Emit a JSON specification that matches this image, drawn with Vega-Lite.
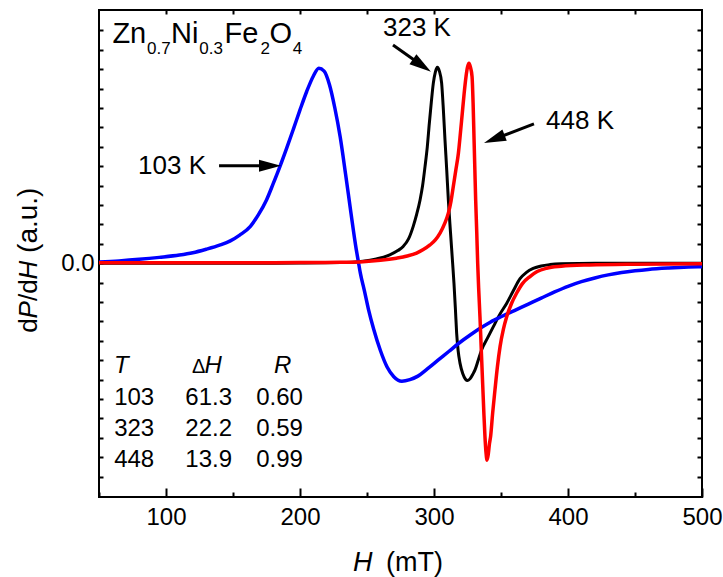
{
  "$schema": "https://vega.github.io/schema/vega-lite/v6.json",
  "width": 603,
  "height": 487,
  "autosize": {"type": "none"},
  "padding": {"left": 99, "top": 10, "right": 21, "bottom": 80},
  "background": "white",
  "config": {
    "font": "Liberation Sans",
    "view": {"stroke": "black", "strokeWidth": 2},
    "axis": {"grid": false, "domain": false, "ticks": true, "tickColor": "black", "tickOpacity": 1, "tickWidth": 2, "labelColor": "black", "labelFont": "Liberation Sans", "labelFontSize": 24, "title": null}
  },
  "resolve": {"axis": {"x": "independent", "y": "independent"}},
  "datasets": {
    "curves": [
      {"T":"323","H":50,"v":0},{"T":"323","H":150,"v":0},{"T":"323","H":200,"v":0.01},{"T":"323","H":230,"v":0.03},{"T":"323","H":247,"v":0.1},{"T":"323","H":257,"v":0.22},{"T":"323","H":267,"v":0.43},{"T":"323","H":273,"v":0.65},{"T":"323","H":277,"v":0.86},{"T":"323","H":281,"v":1.25},{"T":"323","H":284.5,"v":1.9},{"T":"323","H":287,"v":2.5},{"T":"323","H":289.6,"v":3.26},{"T":"323","H":291.5,"v":4.0},{"T":"323","H":293.3,"v":4.98},{"T":"323","H":295,"v":6.0},{"T":"323","H":296.5,"v":7.2},{"T":"323","H":298,"v":8.3},{"T":"323","H":299.5,"v":9.28},{"T":"323","H":301,"v":9.85},{"T":"323","H":302.5,"v":10.1},{"T":"323","H":304,"v":9.9},{"T":"323","H":305.7,"v":9.28},{"T":"323","H":307,"v":7.9},{"T":"323","H":308.2,"v":6.36},{"T":"323","H":309.5,"v":4.8},{"T":"323","H":310.7,"v":3.26},{"T":"323","H":312.3,"v":1.6},{"T":"323","H":313.9,"v":0},{"T":"323","H":314.9,"v":-1.03},{"T":"323","H":316,"v":-2.4},{"T":"323","H":316.9,"v":-3.6},{"T":"323","H":318,"v":-4.5},{"T":"323","H":319.4,"v":-5.15},{"T":"323","H":321.5,"v":-5.7},{"T":"323","H":323.5,"v":-5.98},{"T":"323","H":325.1,"v":-6.05},{"T":"323","H":327,"v":-5.95},{"T":"323","H":329,"v":-5.72},{"T":"323","H":330.6,"v":-5.5},{"T":"323","H":333,"v":-5.0},{"T":"323","H":335.5,"v":-4.47},{"T":"323","H":340,"v":-3.85},{"T":"323","H":344.3,"v":-3.27},{"T":"323","H":349,"v":-2.65},{"T":"323","H":354.3,"v":-2.06},{"T":"323","H":359,"v":-1.45},{"T":"323","H":364.2,"v":-0.8},{"T":"323","H":369,"v":-0.47},{"T":"323","H":374,"v":-0.27},{"T":"323","H":380,"v":-0.14},{"T":"323","H":386.6,"v":-0.07},{"T":"323","H":395,"v":-0.03},{"T":"323","H":420,"v":0},{"T":"323","H":500,"v":0},
      {"T":"103","H":50,"v":0.06},{"T":"103","H":65,"v":0.12},{"T":"103","H":80,"v":0.2},{"T":"103","H":95,"v":0.3},{"T":"103","H":110,"v":0.42},{"T":"103","H":120,"v":0.54},{"T":"103","H":130,"v":0.72},{"T":"103","H":140,"v":0.93},{"T":"103","H":148,"v":1.15},{"T":"103","H":155,"v":1.45},{"T":"103","H":163,"v":1.9},{"T":"103","H":169,"v":2.5},{"T":"103","H":175,"v":3.26},{"T":"103","H":180,"v":4.1},{"T":"103","H":185,"v":4.98},{"T":"103","H":190,"v":5.92},{"T":"103","H":195,"v":6.9},{"T":"103","H":200,"v":7.9},{"T":"103","H":205,"v":8.85},{"T":"103","H":210,"v":9.65},{"T":"103","H":214,"v":10.05},{"T":"103","H":218,"v":9.9},{"T":"103","H":222,"v":9.2},{"T":"103","H":226,"v":8.0},{"T":"103","H":230,"v":6.5},{"T":"103","H":234,"v":4.6},{"T":"103","H":238,"v":2.6},{"T":"103","H":242,"v":0.7},{"T":"103","H":243.5,"v":0.1},{"T":"103","H":245,"v":-0.5},{"T":"103","H":248,"v":-1.4},{"T":"103","H":251,"v":-2.35},{"T":"103","H":255,"v":-3.4},{"T":"103","H":260,"v":-4.5},{"T":"103","H":265,"v":-5.35},{"T":"103","H":270,"v":-5.85},{"T":"103","H":276,"v":-6.08},{"T":"103","H":282,"v":-6.0},{"T":"103","H":288,"v":-5.82},{"T":"103","H":295,"v":-5.45},{"T":"103","H":303,"v":-5.0},{"T":"103","H":311,"v":-4.55},{"T":"103","H":319,"v":-4.1},{"T":"103","H":327,"v":-3.7},{"T":"103","H":335,"v":-3.33},{"T":"103","H":342,"v":-3.04},{"T":"103","H":350,"v":-2.76},{"T":"103","H":360,"v":-2.44},{"T":"103","H":370,"v":-2.12},{"T":"103","H":380,"v":-1.8},{"T":"103","H":390,"v":-1.48},{"T":"103","H":400,"v":-1.19},{"T":"103","H":410,"v":-0.95},{"T":"103","H":420,"v":-0.76},{"T":"103","H":430,"v":-0.6},{"T":"103","H":440,"v":-0.48},{"T":"103","H":450,"v":-0.39},{"T":"103","H":460,"v":-0.32},{"T":"103","H":475,"v":-0.25},{"T":"103","H":490,"v":-0.2},{"T":"103","H":500,"v":-0.18},
      {"T":"448","H":50,"v":0.02},{"T":"448","H":150,"v":0.02},{"T":"448","H":200,"v":0.03},{"T":"448","H":230,"v":0.05},{"T":"448","H":247,"v":0.08},{"T":"448","H":260,"v":0.15},{"T":"448","H":272,"v":0.26},{"T":"448","H":280,"v":0.37},{"T":"448","H":287,"v":0.52},{"T":"448","H":292,"v":0.7},{"T":"448","H":297,"v":0.94},{"T":"448","H":301,"v":1.2},{"T":"448","H":304.5,"v":1.55},{"T":"448","H":308,"v":2.05},{"T":"448","H":310.7,"v":2.58},{"T":"448","H":312.7,"v":3.2},{"T":"448","H":314.4,"v":3.95},{"T":"448","H":316.3,"v":4.8},{"T":"448","H":318.2,"v":5.67},{"T":"448","H":319.7,"v":6.7},{"T":"448","H":321.1,"v":7.73},{"T":"448","H":322.5,"v":8.75},{"T":"448","H":323.9,"v":9.62},{"T":"448","H":325,"v":10.1},{"T":"448","H":326.1,"v":10.3},{"T":"448","H":327.2,"v":10.1},{"T":"448","H":328.4,"v":9.62},{"T":"448","H":329.2,"v":8.2},{"T":"448","H":329.9,"v":6.36},{"T":"448","H":330.5,"v":4.8},{"T":"448","H":331.1,"v":3.26},{"T":"448","H":331.9,"v":1.6},{"T":"448","H":332.6,"v":0},{"T":"448","H":333.4,"v":-1.4},{"T":"448","H":334.3,"v":-2.75},{"T":"448","H":335.3,"v":-4.5},{"T":"448","H":336.3,"v":-6.19},{"T":"448","H":337.2,"v":-7.7},{"T":"448","H":338,"v":-8.9},{"T":"448","H":338.8,"v":-9.75},{"T":"448","H":339.6,"v":-10.15},{"T":"448","H":340.5,"v":-9.85},{"T":"448","H":341.4,"v":-9.3},{"T":"448","H":342.3,"v":-8.9},{"T":"448","H":343.8,"v":-7.7},{"T":"448","H":345.5,"v":-6.53},{"T":"448","H":347.3,"v":-5.35},{"T":"448","H":349.3,"v":-4.3},{"T":"448","H":351.8,"v":-3.4},{"T":"448","H":354.3,"v":-2.75},{"T":"448","H":358,"v":-2.05},{"T":"448","H":361.6,"v":-1.55},{"T":"448","H":366,"v":-1.05},{"T":"448","H":371.6,"v":-0.69},{"T":"448","H":377,"v":-0.43},{"T":"448","H":384,"v":-0.26},{"T":"448","H":395,"v":-0.16},{"T":"448","H":416,"v":-0.09},{"T":"448","H":450,"v":-0.05},{"T":"448","H":500,"v":-0.03}
    ],
    "arrows": [
      {"id":"103","H":139.6,"v":5.02,"H2":177.6,"v2":5.02},
      {"id":"323","H":269.4,"v":11.25,"H2":291.0,"v2":10.19},
      {"id":"448","H":374.6,"v":7.18,"H2":345.0,"v2":6.40}
    ],
    "texts": [
      {"g":"lab","t":"103 K","H":104.5,"v":4.6},
      {"g":"lab","t":"323 K","H":287.3,"v":11.72},
      {"g":"lab","t":"448 K","H":409,"v":6.92},
      {"g":"fmain","t":"Zn","H":60.0,"v":11.34},
      {"g":"fmain","t":"Ni","H":103.8,"v":11.34},
      {"g":"fmain","t":"Fe","H":143.6,"v":11.34},
      {"g":"fmain","t":"O","H":177.2,"v":11.34},
      {"g":"fsub","t":"0.7","H":85.8,"v":10.77},
      {"g":"fsub","t":"0.3","H":124.9,"v":10.77},
      {"g":"fsub","t":"2","H":170.5,"v":10.77},
      {"g":"fsub","t":"4","H":194.6,"v":10.77},
      {"g":"hdri","t":"T","H":61.2,"v":-5.65},
      {"g":"hdri","t":"H","H":128.7,"v":-5.65},
      {"g":"hdri","t":"R","H":180.6,"v":-5.65},
      {"g":"hdrd","t":"Δ","H":119.4,"v":-5.65},
      {"g":"tnum","t":"103","H":91.2,"v":-7.3},
      {"g":"tnum","t":"61.3","H":149.3,"v":-7.3},
      {"g":"tnum","t":"0.60","H":202.2,"v":-7.3},
      {"g":"tnum","t":"323","H":91.2,"v":-8.9},
      {"g":"tnum","t":"22.2","H":149.3,"v":-8.9},
      {"g":"tnum","t":"0.59","H":202.2,"v":-8.9},
      {"g":"tnum","t":"448","H":91.2,"v":-10.5},
      {"g":"tnum","t":"13.9","H":149.3,"v":-10.5},
      {"g":"tnum","t":"0.99","H":202.2,"v":-10.5},
      {"g":"xti","t":"H","H":239.6,"v":-15.86},
      {"g":"xt","t":"(mT)","H":264.2,"v":-15.86},
      {"g":"yt","t":"d","H":3.7,"v":-3.59},
      {"g":"yti","t":"P","H":3.7,"v":-2.85},
      {"g":"yt","t":"/d","H":3.7,"v":-1.95},
      {"g":"yti","t":"H","H":3.7,"v":-0.84},
      {"g":"yt2","t":"(a.u.)","H":3.7,"v":0.53}
    ]
  },
  "encoding": {
    "x": {"field": "H", "type": "quantitative", "scale": {"domain": [50, 500], "nice": false, "zero": false}, "axis": null},
    "y": {"field": "v", "type": "quantitative", "scale": {"domain": [-12.05, 13.05], "nice": false, "zero": false}, "axis": null}
  },
  "layer": [
    {
      "mark": {"type": "rule", "color": "black", "strokeWidth": 1.5},
      "encoding": {"x": {"datum": 50, "type": "quantitative"}, "x2": {"datum": 500}, "y": {"datum": 0, "type": "quantitative"}}
    },
    {
      "data": {"name": "curves"},
      "transform": [{"filter": "datum.T === '323'"}],
      "mark": {"type": "line", "color": "black", "strokeWidth": 3, "interpolate": "monotone"},
      "encoding": {
        "x": {"field": "H", "type": "quantitative", "scale": {"domain": [50, 500], "nice": false, "zero": false},
          "axis": {"orient": "bottom", "values": [50, 100, 150, 200, 250, 300, 350, 400, 450, 500],
            "tickSize": {"condition": {"test": "datum.value % 100 === 0", "value": -9}, "value": -5},
            "labelExpr": "datum.value % 100 === 0 ? datum.label : ''", "labelPadding": 17, "labelOverlap": false, "labelFlush": false, "labelBound": false}},
        "y": {"field": "v", "type": "quantitative", "scale": {"domain": [-12.05, 13.05], "nice": false, "zero": false},
          "axis": {"orient": "left", "values": [-11, -10, -9, -8, -7, -6, -5, -4, -3, -2, -1, 0, 1, 2, 3, 4, 5, 6, 7, 8, 9, 10, 11, 12],
            "tickSize": -4, "labelExpr": "datum.value === 0 ? '0.0' : ''", "labelPadding": 9, "labelOverlap": false, "labelBound": false}}
      }
    },
    {
      "data": {"name": "curves"},
      "transform": [{"filter": "datum.T === '103'"}],
      "mark": {"type": "line", "color": "#0000ff", "strokeWidth": 3.5, "interpolate": "monotone"},
      "encoding": {
        "x": {"field": "H", "type": "quantitative", "scale": {"domain": [50, 500], "nice": false, "zero": false},
          "axis": {"orient": "top", "values": [100, 150, 200, 250, 300, 350, 400, 450], "tickSize": -4, "labels": false}},
        "y": {"field": "v", "type": "quantitative", "scale": {"domain": [-12.05, 13.05], "nice": false, "zero": false},
          "axis": {"orient": "right", "values": [-11, -10, -9, -8, -7, -6, -5, -4, -3, -2, -1, 0, 1, 2, 3, 4, 5, 6, 7, 8, 9, 10, 11, 12], "tickSize": 5, "offset": -5, "labels": false}}
      }
    },
    {
      "data": {"name": "curves"},
      "transform": [{"filter": "datum.T === '448'"}],
      "mark": {"type": "line", "color": "#ff0000", "strokeWidth": 3.5, "interpolate": "monotone"}
    },
    {
      "data": {"name": "arrows"},
      "mark": {"type": "rule", "color": "black", "strokeWidth": 3},
      "encoding": {"x2": {"field": "H2"}, "y2": {"field": "v2"}}
    },
    {
      "data": {"name": "arrows"},
      "transform": [{"filter": "datum.id === '103'"}],
      "mark": {"type": "point", "shape": "M-1,-0.55L1,0L-1,0.55Z", "filled": true, "color": "black", "opacity": 1, "size": 484, "angle": 0},
      "encoding": {"x": {"field": "H2", "type": "quantitative"}, "y": {"field": "v2", "type": "quantitative"}}
    },
    {
      "data": {"name": "arrows"},
      "transform": [{"filter": "datum.id === '323'"}],
      "mark": {"type": "point", "shape": "M-1,-0.55L1,0L-1,0.55Z", "filled": true, "color": "black", "opacity": 1, "size": 484, "angle": 35},
      "encoding": {"x": {"field": "H2", "type": "quantitative"}, "y": {"field": "v2", "type": "quantitative"}}
    },
    {
      "data": {"name": "arrows"},
      "transform": [{"filter": "datum.id === '448'"}],
      "mark": {"type": "point", "shape": "M-1,-0.55L1,0L-1,0.55Z", "filled": true, "color": "black", "opacity": 1, "size": 484, "angle": 159},
      "encoding": {"x": {"field": "H2", "type": "quantitative"}, "y": {"field": "v2", "type": "quantitative"}}
    },
    {
      "data": {"name": "texts"},
      "transform": [{"filter": "datum.g === 'lab'"}],
      "mark": {"type": "text", "fontSize": 26, "align": "center", "baseline": "alphabetic", "color": "black"},
      "encoding": {"text": {"field": "t"}}
    },
    {
      "data": {"name": "texts"},
      "transform": [{"filter": "datum.g === 'fmain'"}],
      "mark": {"type": "text", "fontSize": 29, "align": "left", "baseline": "alphabetic", "color": "black"},
      "encoding": {"text": {"field": "t"}}
    },
    {
      "data": {"name": "texts"},
      "transform": [{"filter": "datum.g === 'fsub'"}],
      "mark": {"type": "text", "fontSize": 17, "align": "left", "baseline": "alphabetic", "color": "black"},
      "encoding": {"text": {"field": "t"}}
    },
    {
      "data": {"name": "texts"},
      "transform": [{"filter": "datum.g === 'hdri'"}],
      "mark": {"type": "text", "fontSize": 24, "fontStyle": "italic", "align": "left", "baseline": "alphabetic", "color": "black"},
      "encoding": {"text": {"field": "t"}}
    },
    {
      "data": {"name": "texts"},
      "transform": [{"filter": "datum.g === 'hdrd'"}],
      "mark": {"type": "text", "fontSize": 20, "align": "left", "baseline": "alphabetic", "color": "black"},
      "encoding": {"text": {"field": "t"}}
    },
    {
      "data": {"name": "texts"},
      "transform": [{"filter": "datum.g === 'tnum'"}],
      "mark": {"type": "text", "fontSize": 24, "align": "right", "baseline": "alphabetic", "color": "black"},
      "encoding": {"text": {"field": "t"}}
    },
    {
      "data": {"name": "texts"},
      "transform": [{"filter": "datum.g === 'xti'"}],
      "mark": {"type": "text", "fontSize": 27, "fontStyle": "italic", "align": "left", "baseline": "alphabetic", "color": "black"},
      "encoding": {"text": {"field": "t"}}
    },
    {
      "data": {"name": "texts"},
      "transform": [{"filter": "datum.g === 'xt'"}],
      "mark": {"type": "text", "fontSize": 27, "align": "left", "baseline": "alphabetic", "color": "black"},
      "encoding": {"text": {"field": "t"}}
    },
    {
      "data": {"name": "texts"},
      "transform": [{"filter": "datum.g === 'yti'"}],
      "mark": {"type": "text", "fontSize": 26, "fontStyle": "italic", "angle": 270, "align": "left", "baseline": "alphabetic", "color": "black"},
      "encoding": {"text": {"field": "t"}}
    },
    {
      "data": {"name": "texts"},
      "transform": [{"filter": "datum.g === 'yt'"}],
      "mark": {"type": "text", "fontSize": 26, "angle": 270, "align": "left", "baseline": "alphabetic", "color": "black"},
      "encoding": {"text": {"field": "t"}}
    },
    {
      "data": {"name": "texts"},
      "transform": [{"filter": "datum.g === 'yt2'"}],
      "mark": {"type": "text", "fontSize": 28, "angle": 270, "align": "left", "baseline": "alphabetic", "color": "black"},
      "encoding": {"text": {"field": "t"}}
    }
  ]
}
